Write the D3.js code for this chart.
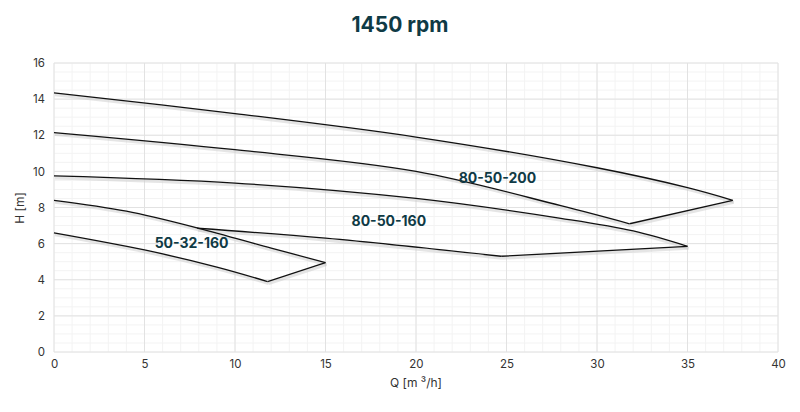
<!DOCTYPE html><html><head><meta charset="utf-8"><script src="https://cdn.jsdelivr.net/npm/d3@7"></script>
<style>body{margin:0;background:#fff;font-family:Inter,"Noto Sans",sans-serif}</style></head><body><svg id="c" width="800" height="412"></svg><script>
const xTicks=[0,5,10,15,20,25,30,35,40];
const yTicks=[0,2,4,6,8,10,12,14,16];
const curve200=[[0,14.35],[10,13.2],[20,11.9],[30,10.2],[35,9.1],[37.5,8.4],[31.8,7.1],[28,8.1],[20,10.0],[10,11.2],[0,12.15]];
const curve160=[[0,9.75],[10,9.35],[20,8.5],[28,7.4],[32,6.7],[35,5.85],[24.7,5.3],[15,6.3],[7.9,6.85]];
const curve32=[[0,8.4],[4,7.8],[8,6.85],[12,5.75],[15,4.95],[11.8,3.9],[9,4.7],[5,5.65],[0,6.6]];
const labels=[{t:"80-50-200",q:24.5,h:9.35},{t:"80-50-160",q:18.5,h:7.0},{t:"50-32-160",q:7.6,h:5.75}];
const svg=d3.select("#c"),L=54,R=778,T=63,B=352;
const x=d3.scaleLinear().domain([0,40]).range([L,R]);
const y=d3.scaleLinear().domain([0,16]).range([B,T]);
const g=svg.append("g");
g.selectAll(".mx").data(d3.range(0,41,1)).join("line").attr("x1",d=>x(d)).attr("x2",d=>x(d)).attr("y1",T).attr("y2",B).attr("stroke","#f3f3f3");
g.selectAll(".my").data(d3.range(0,16.01,0.5)).join("line").attr("y1",d=>y(d)).attr("y2",d=>y(d)).attr("x1",L).attr("x2",R).attr("stroke","#f3f3f3");
g.selectAll(".gx").data(xTicks).join("line").attr("x1",d=>x(d)).attr("x2",d=>x(d)).attr("y1",T).attr("y2",B).attr("stroke","#e2e2e2");
g.selectAll(".gy").data(yTicks).join("line").attr("y1",d=>y(d)).attr("y2",d=>y(d)).attr("x1",L).attr("x2",R).attr("stroke","#e2e2e2");
const ax=svg.append("g").attr("transform",`translate(0,${B})`).call(d3.axisBottom(x).tickValues(xTicks).tickSize(0).tickPadding(8));
const ay=svg.append("g").attr("transform",`translate(${L},0)`).call(d3.axisLeft(y).tickValues(yTicks).tickSize(0).tickPadding(9));
[ax,ay].forEach(a=>{a.select(".domain").remove();a.selectAll("text").attr("font-size",11.5).attr("fill","#333").attr("font-family","Inter,sans-serif");});
function draw(pts){
 const path=d3.line().x(d=>x(d[0])).y(d=>y(d[1])).curve(d3.curveCatmullRom.alpha(0.5));
 let imax=0;pts.forEach((p,i)=>{if(p[0]>pts[imax][0])imax=i;});
 const top=pts.slice(0,imax+1),bot=pts.slice(imax+1);
 [top,[pts[imax],bot[0]],bot].forEach(s=>{
  svg.append("path").attr("d",path(s)).attr("fill","none").attr("stroke","#ccc").attr("stroke-width",3).attr("transform","translate(1,2)").attr("opacity",0.5);
  svg.append("path").attr("d",path(s)).attr("fill","none").attr("stroke","#111").attr("stroke-width",1.3);
 });
}
draw(curve200);draw(curve160);draw(curve32);
svg.selectAll(".lb").data(labels).join("text").attr("x",d=>x(d.q)).attr("y",d=>y(d.h)).attr("text-anchor","middle").attr("font-size",14).attr("font-weight",700).attr("fill","#0f3a45").text(d=>d.t);
svg.append("text").attr("x",400).attr("y",32).attr("text-anchor","middle").attr("font-size",21).attr("font-weight",700).attr("fill","#0f3a45").text("1450 rpm");
svg.append("text").attr("x",416).attr("y",387).attr("text-anchor","middle").attr("font-size",12).attr("fill","#333").text("Q [m \u00B3/h]");
svg.append("text").attr("transform","translate(24,208) rotate(-90)").attr("text-anchor","middle").attr("font-size",12).attr("fill","#333").text("H [m]");
</script></body></html>
